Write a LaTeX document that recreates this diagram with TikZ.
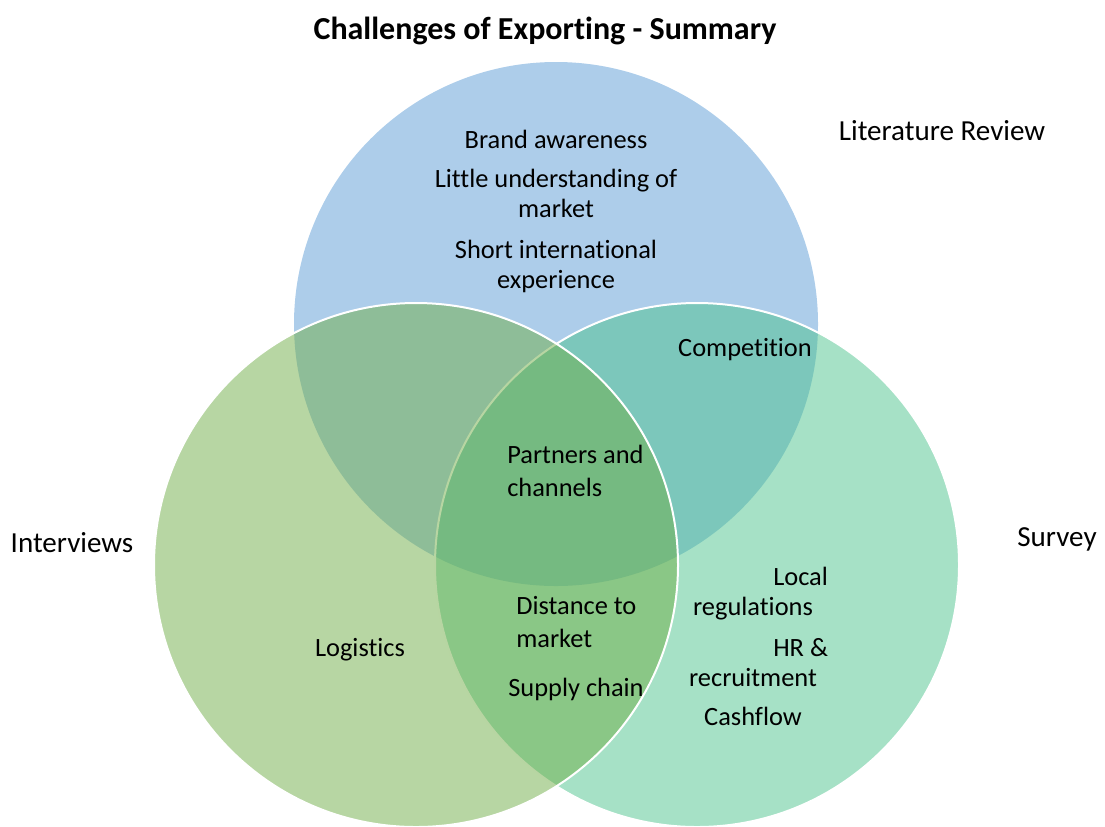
\documentclass[tikz,border=0pt]{standalone}
\usepackage{fontspec}
\setmainfont{Carlito}[Ligatures=NoCommon]
\usepackage{xcolor}
\usepackage{tikz}
\usetikzlibrary{positioning}
\definecolor{litblue}{HTML}{5B9BD5}
\definecolor{intgreen}{HTML}{70AD47}
\definecolor{survgreen}{HTML}{4DC38D}
\tikzset{
  venn/.style={fill opacity=0.5, draw=white, line width=1.5pt},
  item/.style={inner sep=0pt, font=\fontsize{19.8}{24.4}\selectfont, align=center},
  tightitem/.style={item, font=\fontsize{19.8}{22}\selectfont},
  setname/.style={inner sep=0pt, font=\fontsize{21.8}{26}\selectfont},
}

\begin{document}
\begin{tikzpicture}[x=0.75pt, y=-0.75pt]
  \useasboundingbox (0, 0) rectangle (1105, 826);
  \fill[venn, draw=none, fill=litblue] (556, 324) circle (262);
  \filldraw[venn, fill=survgreen] (697, 565) circle (262);
  \filldraw[venn, fill=intgreen] (416, 565) circle (262);

  \node[anchor=base, inner sep=0pt, font=\fontsize{24}{28}\selectfont\bfseries] (title) at (545, 39) {Challenges of Exporting - Summary};

  \node[setname, anchor=base] (litrev) at (942, 140) {Literature Review};
  \node[setname, anchor=base] (interviews) at (72, 552) {Interviews};
  \node[setname, anchor=base] (survey) at (1057, 546) {Survey};

  % multi-line nodes: base is the last line
  \node[tightitem, anchor=base] (brand) at (556, 148) {Brand awareness};
  \node[tightitem, anchor=base] (understanding) at (556, 217) {Little understanding of\\market};
  \node[tightitem, anchor=base] (experience) at (556, 288) {Short international\\experience};
  \node[item, anchor=base] (competition) at (745, 356) {Competition};
  \node[item, anchor=base west, align=left] (partners) at (507, 496) {Partners and\\channels};
  \node[item, anchor=base west, align=left] (distance) at (516, 647) {Distance to\\market};
  \node[item, anchor=base] (supply) at (576, 696) {Supply chain};
  \node[item, anchor=base] (logistics) at (360, 656) {Logistics};
  \node[item, anchor=base west] (local) at (773, 585) {Local};
  \node[item, anchor=base] (regulations) at (753, 615) {regulations};
  \node[item, anchor=base west] (hr) at (773, 656) {HR \&};
  \node[item, anchor=base] (recruitment) at (753, 686) {recruitment};
  \node[item, anchor=base] (cashflow) at (753, 725) {Cashflow};
\end{tikzpicture}
\end{document}
